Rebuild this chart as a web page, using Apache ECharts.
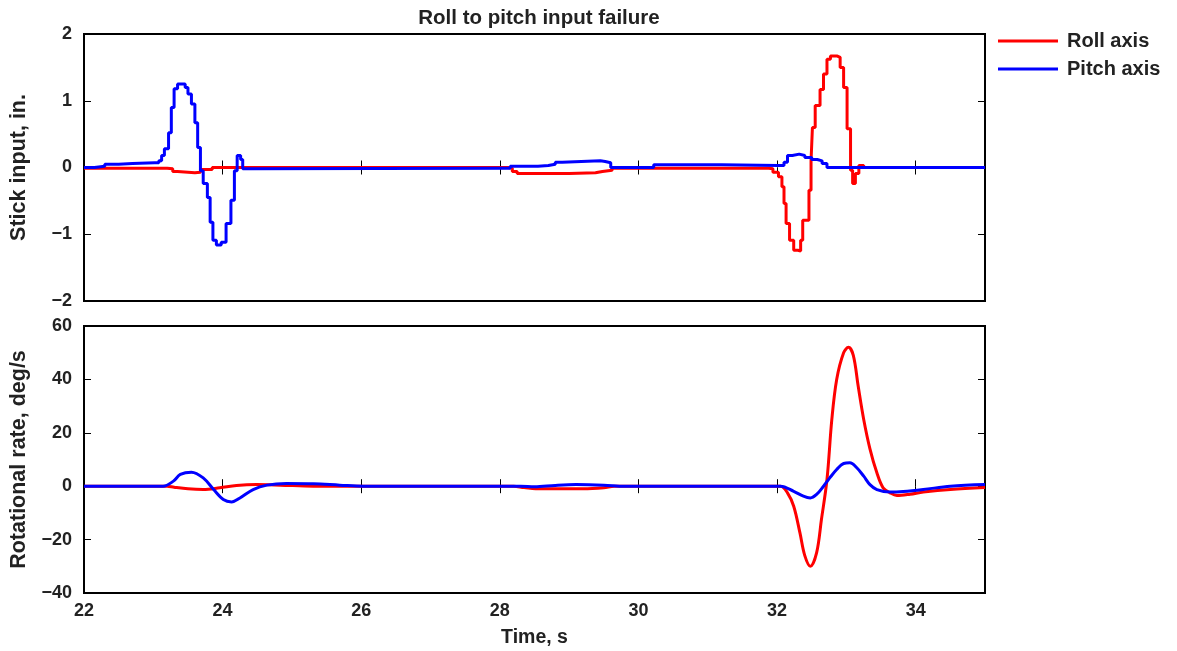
<!DOCTYPE html>
<html>
<head>
<meta charset="utf-8">
<script src="https://cdn.jsdelivr.net/npm/echarts@6/dist/echarts.min.js"></script>
<style>
html,body{margin:0;padding:0;background:#fff;}
#chart{width:1177px;height:651px;}
</style>
</head>
<body>
<div id="chart"></div>
<script>
// ---------- DATA ----------
const title = 'Roll to pitch input failure';
const seriesNames = ['Roll axis', 'Pitch axis'];
const xTicks = [22, 24, 26, 28, 30, 32, 34];

// Top panel: stick input (step signals), value holds until next time
const rollStickT = [22.00, 23.20, 23.28, 23.35, 23.60, 23.68, 23.85, 28.12, 28.18, 28.25, 29.00, 29.38, 29.48, 29.62, 31.88, 31.94, 32.02, 32.07, 32.10, 32.13, 32.18, 32.24, 32.30, 32.34, 32.37, 32.46, 32.49, 32.51, 32.55, 32.62, 32.67, 32.72, 32.77, 32.87, 32.91, 32.96, 33.01, 33.06, 33.09, 33.13, 33.18, 33.25, 35.00];
const rollStickV = [-0.01, -0.02, -0.06, -0.08, -0.07, -0.03, 0.00, -0.01, -0.06, -0.09, -0.08, -0.06, -0.04, -0.01, -0.02, -0.07, -0.14, -0.29, -0.54, -0.84, -1.09, -1.24, -1.25, -1.09, -0.79, -0.34, 0.10, 0.60, 0.93, 1.17, 1.40, 1.62, 1.67, 1.65, 1.50, 1.20, 0.58, -0.04, -0.24, -0.09, 0.03, 0.00, 0.00];

const pitchStickT = [22.00, 22.15, 22.30, 22.50, 22.70, 23.02, 23.08, 23.12, 23.16, 23.22, 23.26, 23.30, 23.35, 23.46, 23.50, 23.55, 23.60, 23.64, 23.68, 23.72, 23.78, 23.82, 23.86, 23.91, 23.98, 24.05, 24.12, 24.17, 24.21, 24.26, 24.29, 24.40, 28.10, 28.15, 28.55, 28.70, 28.80, 28.90, 29.45, 29.52, 29.60, 30.22, 31.20, 32.02, 32.10, 32.15, 32.22, 32.32, 32.40, 32.50, 32.58, 32.65, 32.72, 35.00];
const pitchStickV = [0.00, 0.02, 0.05, 0.06, 0.07, 0.07, 0.10, 0.18, 0.28, 0.52, 0.90, 1.18, 1.25, 1.20, 1.10, 0.95, 0.67, 0.30, -0.05, -0.24, -0.45, -0.82, -1.09, -1.16, -1.12, -0.84, -0.49, -0.05, 0.18, 0.12, -0.02, -0.01, -0.01, 0.02, 0.03, 0.05, 0.08, 0.10, 0.09, 0.07, 0.00, 0.04, 0.03, 0.03, 0.08, 0.18, 0.20, 0.18, 0.15, 0.12, 0.10, 0.06, 0.00, 0.00];

// Bottom panel: rotational rate, deg/s
const rollRateT = [22.0, 23.2, 23.30, 23.50, 23.72, 23.96, 24.20, 24.49, 24.83, 25.31, 28.20, 28.35, 28.60, 29.20, 29.50, 29.65, 32.05, 32.15, 32.24, 32.33, 32.40, 32.48, 32.57, 32.64, 32.72, 32.79, 32.86, 32.96, 33.03, 33.10, 33.17, 33.25, 33.34, 33.44, 33.53, 33.63, 33.73, 33.92, 34.11, 34.50, 35.0];
const rollRateV = [0, 0, -0.4, -1.0, -1.25, -0.6, 0.25, 0.6, 0.4, 0, 0, -0.5, -1.0, -1.0, -0.6, 0, 0, -2.5, -7.5, -17.5, -26, -30, -25, -12.5, 2.5, 25, 40, 50, 52, 49, 37.5, 25, 14, 5, -0.6, -2.5, -3.5, -3, -2.2, -1.2, -0.5];

const pitchRateT = [22.0, 23.14, 23.29, 23.39, 23.55, 23.72, 23.87, 24.01, 24.13, 24.25, 24.44, 24.64, 24.92, 25.31, 25.69, 26.03, 28.30, 28.50, 28.80, 29.10, 29.50, 29.80, 32.05, 32.24, 32.38, 32.48, 32.57, 32.67, 32.76, 32.86, 32.96, 33.05, 33.15, 33.25, 33.34, 33.44, 33.63, 33.82, 34.11, 34.50, 35.0];
const pitchRateV = [0, 0, 1.9, 4.4, 5.25, 3.1, -1.25, -5, -5.9, -4.4, -1.25, 0.4, 1.0, 0.9, 0.4, 0, 0, -0.25, 0.3, 0.6, 0.4, 0, 0, -1.9, -3.75, -4.4, -3.1, 0, 3.1, 6.25, 8.5, 8.75, 6.9, 3.75, 0.6, -1.25, -2.2, -2, -1.25, 0, 0.6];

// ---------- CHART ----------
const zip = (t, v) => t.map((x, i) => [x, v[i]]);
const FONT = 'Liberation Sans';
const RED = '#ff0000', BLUE = '#0000ff';
const minus = v => String(v).replace('-', '\u2212');

const chart = echarts.init(document.getElementById('chart'), null, {renderer: 'canvas'});

const gridBase = {left: 84, width: 901, show: true, borderColor: '#000', borderWidth: 2, backgroundColor: 'transparent'};
const tickStyle = {show: true, inside: true, length: 7, lineStyle: {color: '#000', width: 1}};
const labelStyle = {color: '#222', fontFamily: FONT, fontSize: 18, fontWeight: 'bold'};

function xAxis(grid, pos, labels, name) {
  return {
    type: 'value', gridIndex: grid, position: pos, min: 22, max: 35, interval: 2,
    axisLine: {show: false}, splitLine: {show: false},
    axisTick: tickStyle,
    axisLabel: labels ? Object.assign({margin: 9, showMaxLabel: false, formatter: v => (v === 35 ? '' : minus(v))}, labelStyle) : {show: false},
    name: name || '', nameLocation: 'middle', nameGap: 35,
    nameTextStyle: {color: '#222', fontFamily: FONT, fontSize: 19.5, fontWeight: 'bold'}
  };
}
function yAxis(grid, pos, min, max, interval, labels, name) {
  return {
    type: 'value', gridIndex: grid, position: pos, min: min, max: max, interval: interval,
    axisLine: {show: false}, splitLine: {show: false},
    axisTick: tickStyle,
    axisLabel: labels ? Object.assign({margin: 12, formatter: v => minus(v)}, labelStyle) : {show: false},
    name: name || '', nameLocation: 'middle', nameRotate: 90, nameGap: 54,
    nameTextStyle: {color: '#222', fontFamily: FONT, fontSize: 21.5, fontWeight: 'bold'}
  };
}

const option = {
  animation: false,
  backgroundColor: '#fff',
  title: {
    text: title, left: 534, top: 3, textAlign: 'center',
    textStyle: {color: '#222', fontFamily: FONT, fontSize: 20.5, fontWeight: 'bold'}
  },
  legend: {
    data: seriesNames, orient: 'vertical', left: 993, top: 26,
    itemWidth: 60, itemHeight: 3, itemGap: 8, icon: 'rect',
    textStyle: {color: '#222', fontFamily: FONT, fontSize: 20, fontWeight: 'bold', lineHeight: 20, padding: [0, 0, 0, 4]}
  },
  grid: [
    Object.assign({top: 34, height: 267}, gridBase),
    Object.assign({top: 326, height: 267}, gridBase)
  ],
  xAxis: [
    xAxis(0, 'bottom', false),
    xAxis(0, 'top', false),
    xAxis(1, 'bottom', true, 'Time, s'),
    xAxis(1, 'top', false)
  ],
  yAxis: [
    yAxis(0, 'left', -2, 2, 1, true, 'Stick input, in.'),
    yAxis(0, 'right', -2, 2, 1, false),
    yAxis(1, 'left', -40, 60, 20, true, 'Rotational rate, deg/s'),
    yAxis(1, 'right', -40, 60, 20, false)
  ],
  series: [
    {name: seriesNames[0], type: 'line', xAxisIndex: 0, yAxisIndex: 0, step: 'end', showSymbol: false,
     data: zip(rollStickT, rollStickV), lineStyle: {color: RED, width: 3}, itemStyle: {color: RED}},
    {name: seriesNames[1], type: 'line', xAxisIndex: 0, yAxisIndex: 0, step: 'end', showSymbol: false,
     data: zip(pitchStickT, pitchStickV), lineStyle: {color: BLUE, width: 3}, itemStyle: {color: BLUE}},
    {name: seriesNames[0], type: 'line', xAxisIndex: 2, yAxisIndex: 2, smooth: 0.35, showSymbol: false,
     data: zip(rollRateT, rollRateV), lineStyle: {color: RED, width: 3}, itemStyle: {color: RED}},
    {name: seriesNames[1], type: 'line', xAxisIndex: 2, yAxisIndex: 2, smooth: 0.35, showSymbol: false,
     data: zip(pitchRateT, pitchRateV), lineStyle: {color: BLUE, width: 3}, itemStyle: {color: BLUE}}
  ]
};
chart.setOption(option);
</script>
</body>
</html>
